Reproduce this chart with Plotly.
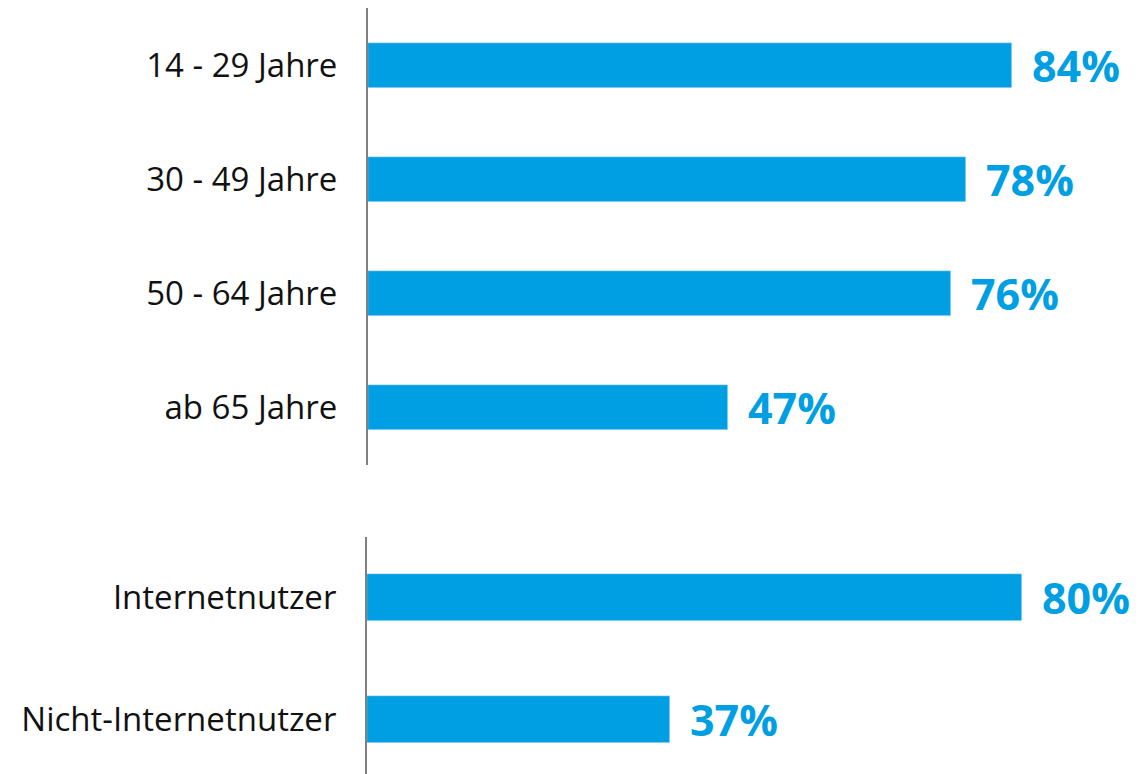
import plotly.graph_objects as go

age_groups = ["14 - 29 Jahre", "30 - 49 Jahre", "50 - 64 Jahre", "ab 65 Jahre"]
age_values = [84, 78, 76, 47]
user_groups = ["Internetnutzer", "Nicht-Internetnutzer"]
user_values = [80, 37]

BLUE = "#009FE3"
OFF = 8  # page body margin
W, H = 1145 - OFF, 774 - OFF
FONT = "Open Sans"


def px_x(x):
    return (x - OFF) / W


def px_y(y):
    return 1 - (y - OFF) / H


fig = go.Figure()
fig.add_trace(go.Bar(y=age_groups, x=age_values, orientation="h", marker_color=BLUE,
                     width=0.395, xaxis="x", yaxis="y", hoverinfo="skip"))
fig.add_trace(go.Bar(y=user_groups, x=user_values, orientation="h", marker_color=BLUE,
                     width=0.39, xaxis="x2", yaxis="y2", hoverinfo="skip"))

annotations = []
for cat, v in zip(age_groups, age_values):
    annotations.append(dict(x=v, y=cat, xref="x", yref="y", text=f"<b>{v}%</b>", showarrow=False,
                            xanchor="left", xshift=18, font=dict(family=FONT, size=43, color=BLUE)))
for cat, v in zip(user_groups, user_values):
    annotations.append(dict(x=v, y=cat, xref="x2", yref="y2", text=f"<b>{v}%</b>", showarrow=False,
                            xanchor="left", xshift=18, font=dict(family=FONT, size=43, color=BLUE)))

axis_common = dict(showgrid=False, zeroline=False, showticklabels=False, fixedrange=True)
yax_common = dict(showgrid=False, zeroline=False, showline=True, linecolor="#808080", linewidth=2,
                  ticks="", ticklabelstandoff=22, tickfont=dict(family=FONT, size=33, color="#111111"),
                  type="category", fixedrange=True)

x0_top, x0_bot = 368, 367
fig.update_layout(
    width=W, height=H, margin=dict(l=0, r=0, t=0, b=0),
    paper_bgcolor="white", plot_bgcolor="white", showlegend=False,
    bargap=0,
    xaxis=dict(domain=[px_x(x0_top), 1], range=[0, (1145 - x0_top) / 7.667], **axis_common),
    yaxis=dict(domain=[px_y(465), px_y(8)], range=[3.5, -0.5], anchor="x", **yax_common),
    xaxis2=dict(domain=[px_x(x0_bot), 1], range=[0, (1145 - x0_bot) / 8.19], anchor="y2", **axis_common),
    yaxis2=dict(domain=[0, px_y(537)], range=[-0.5 + 237 / 121.5, -0.5], anchor="x2", **yax_common),
    annotations=annotations,
)

fig.write_html("out.html")
